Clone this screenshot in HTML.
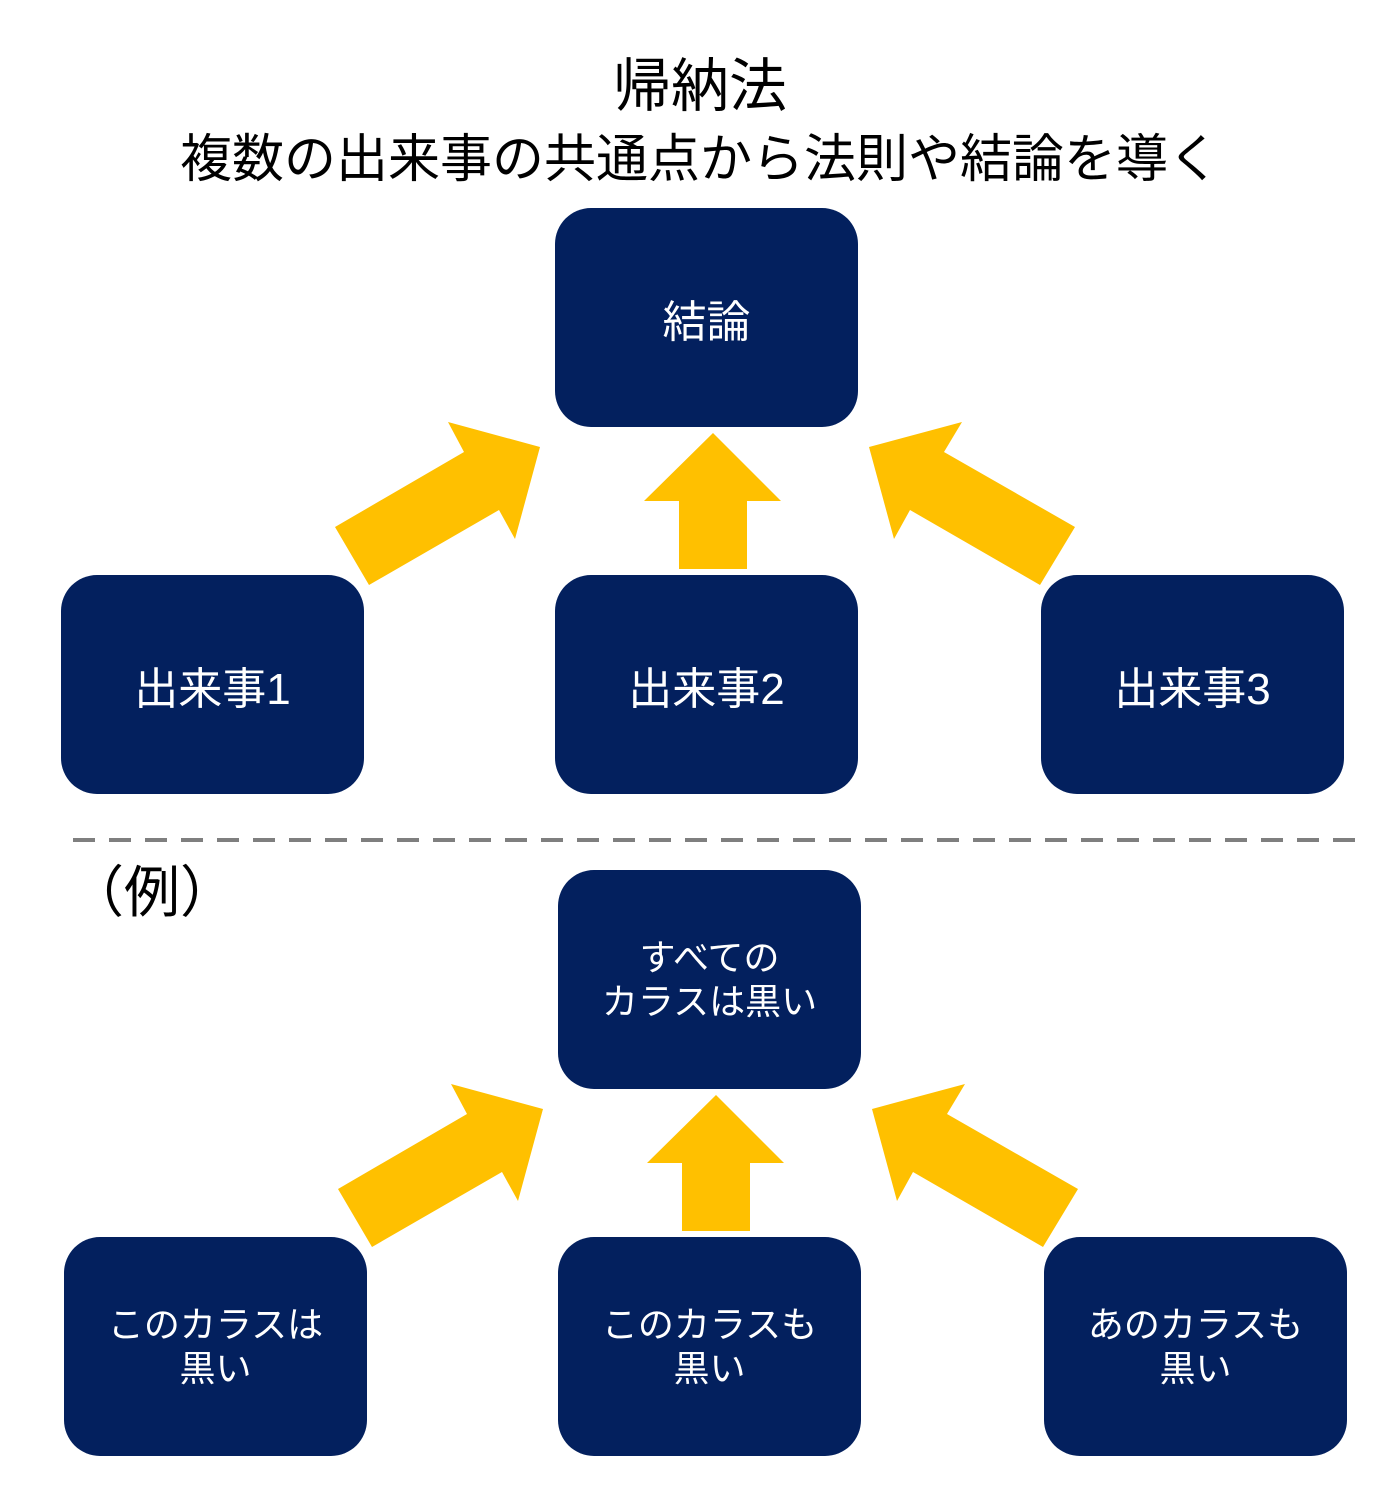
<!DOCTYPE html>
<html><head><meta charset="utf-8"><style>
html,body{margin:0;padding:0;background:#fff;}
body{width:1390px;height:1493px;position:relative;overflow:hidden;font-family:"Liberation Sans","Noto Sans CJK JP",sans-serif;}
.t{position:absolute;left:0;width:1390px;text-align:center;color:#000;white-space:nowrap;}
.b{position:absolute;width:303px;height:219px;background:#03205e;border-radius:36px;color:#fff;display:flex;align-items:center;justify-content:center;text-align:center;}
.big{font-size:44px;}
.sm{font-size:36px;line-height:44px;}
svg{position:absolute;left:0;top:0;}
</style></head><body>
<div class="t" style="top:52px;font-size:58px;line-height:70px;left:5px;">帰納法</div>
<div class="t" style="top:128px;font-size:52px;line-height:64px;left:5px;">複数の出来事の共通点から法則や結論を導く</div>

<svg width="1390" height="1493">
<g fill="#ffc000">
<polygon points="335,527 464,452 448,422 540,447 515,539 499,510 369,585"/>
<polygon points="713,433 781,501 747,501 747,569 679,569 679,501 644,501"/>
<polygon points="1075,527 944,452 962,422 869,447 894,539 910,510 1040,585"/>
<g transform="translate(3,662)">
<polygon points="335,527 464,452 448,422 540,447 515,539 499,510 369,585"/>
<polygon points="713,433 781,501 747,501 747,569 679,569 679,501 644,501"/>
<polygon points="1075,527 944,452 962,422 869,447 894,539 910,510 1040,585"/>
</g>
</g>
<line x1="73" y1="840" x2="1356" y2="840" stroke="#7f7f7f" stroke-width="4" stroke-dasharray="22,14"/>
</svg>

<div class="b big" style="left:555px;top:208px;">結論</div>
<div class="b big" style="left:61px;top:575px;">出来事1</div>
<div class="b big" style="left:555px;top:575px;">出来事2</div>
<div class="b big" style="left:1041px;top:575px;">出来事3</div>

<div style="position:absolute;left:68px;top:858px;font-size:56px;line-height:70px;">（例）</div>

<div class="b sm" style="left:558px;top:870px;">すべての<br>カラスは黒い</div>
<div class="b sm" style="left:64px;top:1237px;">このカラスは<br>黒い</div>
<div class="b sm" style="left:558px;top:1237px;">このカラスも<br>黒い</div>
<div class="b sm" style="left:1044px;top:1237px;">あのカラスも<br>黒い</div>
</body></html>
